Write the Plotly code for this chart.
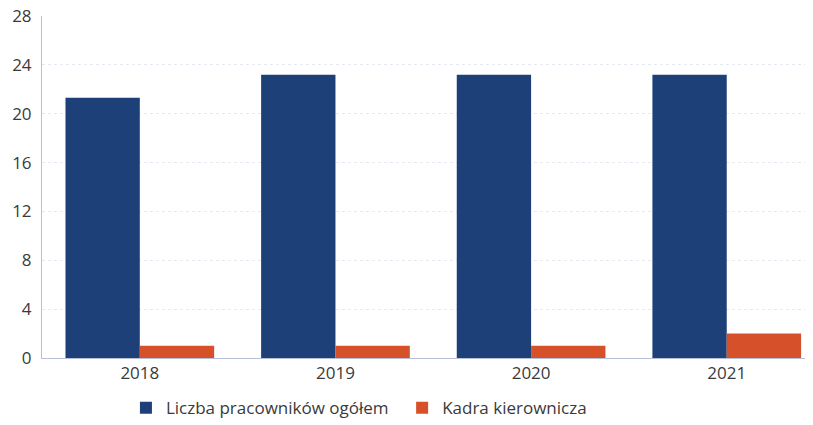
import plotly.graph_objects as go

years = ["2018", "2019", "2020", "2021"]
ogolem = [21.3, 23.2, 23.2, 23.2]
kadra = [1, 1, 1, 2]
y_ticks = [0, 4, 8, 12, 16, 20, 24, 28]

fig = go.Figure()
fig.add_trace(go.Bar(x=years, y=ogolem, name="Liczba pracowników ogółem",
                     marker=dict(color="#1e4078", line=dict(width=0)), legend="legend"))
fig.add_trace(go.Bar(x=years, y=kadra, name="Kadra kierownicza",
                     marker=dict(color="#d6502a", line=dict(width=0)), legend="legend2"))

leg = dict(orientation="h", xanchor="left", y=-0.094, yanchor="top",
           font=dict(size=17, color="#3a3a3a"), itemwidth=30)

fig.update_layout(
    width=813, height=425,
    margin=dict(l=42, r=8, t=16, b=67, autoexpand=False),
    barmode="group", bargap=0.24, bargroupgap=0,
    plot_bgcolor="white", paper_bgcolor="white",
    font=dict(family="Open Sans", size=17, color="#3a3a3a"),
    showlegend=True,
    legend=dict(leg, x=0.110),
    legend2=dict(leg, x=0.472),
)
fig.update_xaxes(type="category", range=[-0.5, 3.4], showline=True, linecolor="#b9bfd8",
                 linewidth=1, ticks="", showgrid=False)
fig.update_yaxes(range=[0, 28], tickvals=y_ticks, showline=True, linecolor="#b9bfd8",
                 linewidth=1, gridcolor="#e6e9f2", griddash="dot", zeroline=False,
                 ticks="", ticklabelstandoff=6)

# bez marginesu body, zeby wykres zaczynal sie w rogu okna
fig.write_html("out.html", config={"displayModeBar": False},
               post_script="document.body.style.margin='0';")
